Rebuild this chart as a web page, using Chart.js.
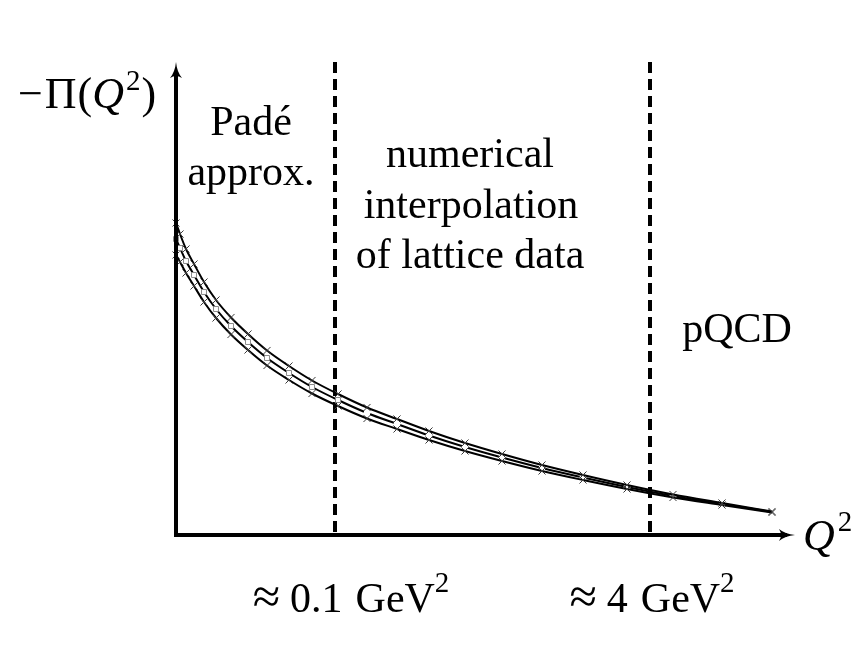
<!DOCTYPE html>
<html>
<head>
<meta charset="utf-8">
<script src="https://cdn.jsdelivr.net/npm/chart.js@4.4.0/dist/chart.umd.min.js"></script>
<style>
html, body { margin: 0; padding: 0; background: #fff; }
#wrap { width: 865px; height: 646px; }
</style>
</head>
<body>
<div id="wrap"><canvas id="myChart" width="865" height="646"></canvas></div>
<script>
// Q^2 positions (schematic units along the axis)
const qValues = [0, 4, 10, 18, 28, 40, 55, 72, 91, 113, 136, 162, 191, 221, 253, 289, 326, 366, 407, 451, 497, 546, 596];
// central curve and upper / lower error band
const centralValues = [296, 287, 274, 260, 243, 226, 209, 193, 177, 162, 148, 135, 122, 111, 99.5, 88, 77.5, 67, 57.5, 48, 39, 31, 23];
const upperValues = [312, 301, 286, 271, 253, 235, 217.5, 201, 184.5, 169, 154.5, 141, 127.5, 116, 104, 92, 81, 70, 60, 50, 40.5, 32, 23.5];
const lowerValues = [280, 273, 262, 249, 233, 217, 200.5, 185, 169.5, 155, 141.5, 129, 116.5, 106, 95, 84, 74, 64, 55, 46, 37.5, 30, 22.5];
// region boundaries on the Q^2 axis
const boundaryPositions = [159, 474];
const boundaryLabels = ['0.1', '4'];
const padeCount = 12; // points computed from the Padé approximants

const serif = '"Liberation Serif", "DejaVu Serif", serif';

function toPoints(ys) {
    return qValues.map((q, i) => ({ x: q, y: ys[i] }));
}

// draws a sequence of [text, font, dy, gapAfter] pieces, starting at x (or centred)
function drawRuns(ctx, runs, x, y, align) {
    let total = 0;
    runs.forEach(r => { ctx.font = r[1]; total += ctx.measureText(r[0]).width + (r[3] || 0); });
    let cx = align === 'center' ? x - total / 2 : x;
    ctx.textAlign = 'left';
    ctx.textBaseline = 'alphabetic';
    runs.forEach(r => {
        ctx.font = r[1];
        ctx.fillText(r[0], cx, y + (r[2] || 0));
        cx += ctx.measureText(r[0]).width + (r[3] || 0);
    });
}

const overlay = {
    id: 'overlay',
    beforeDatasetsDraw(chart) {
        const ctx = chart.ctx;
        const area = chart.chartArea;
        const xs = chart.scales.x;
        ctx.save();
        ctx.strokeStyle = '#000';
        ctx.lineWidth = 4;
        ctx.setLineDash([11, 6]);
        boundaryPositions.forEach(b => {
            const px = Math.round(xs.getPixelForValue(b));
            ctx.beginPath();
            ctx.moveTo(px, area.top);
            ctx.lineTo(px, area.bottom);
            ctx.stroke();
        });
        ctx.restore();
    },
    afterDatasetsDraw(chart) {
        const ctx = chart.ctx;
        const area = chart.chartArea;
        const xs = chart.scales.x;
        const L = area.left, B = area.bottom, T = area.top, R = area.right;
        ctx.save();
        ctx.strokeStyle = '#000';
        ctx.fillStyle = '#000';
        ctx.lineWidth = 4;
        // axes
        ctx.beginPath();
        ctx.moveTo(L, B + 2);
        ctx.lineTo(L, T + 10);
        ctx.moveTo(L - 2, B);
        ctx.lineTo(R - 8, B);
        ctx.stroke();
        // arrow heads
        ctx.beginPath();
        ctx.moveTo(L, T);
        ctx.quadraticCurveTo(L + 1, T + 10, L + 6, T + 16);
        ctx.quadraticCurveTo(L, T + 12, L - 6, T + 16);
        ctx.quadraticCurveTo(L - 1, T + 10, L, T);
        ctx.fill();
        ctx.beginPath();
        ctx.moveTo(R, B);
        ctx.quadraticCurveTo(R - 10, B - 1, R - 16, B - 6);
        ctx.quadraticCurveTo(R - 12, B, R - 16, B + 6);
        ctx.quadraticCurveTo(R - 10, B + 1, R, B);
        ctx.fill();

        // labels
        const big = '42px ' + serif;
        const sup = '29px ' + serif;
        drawRuns(ctx, [['\u2212', '44px ' + serif, 0, 2], ['\u03A0', '44px ' + serif, 0, 1], ['(', '44px ' + serif],
                       ['Q', 'italic 44px ' + serif, 0, 2], ['2', sup, -18, 1], [')', '44px ' + serif]], 18, 108, 'left');
        drawRuns(ctx, [['Q', 'italic 44px ' + serif, 0, 3], ['2', sup, -19]], 803, 550, 'left');

        drawRuns(ctx, [['Padé', big]], 251, 135, 'center');
        drawRuns(ctx, [['approx.', big]], 251, 185, 'center');
        drawRuns(ctx, [['numerical', big]], 470, 167, 'center');
        drawRuns(ctx, [['interpolation', big]], 471, 218, 'center');
        drawRuns(ctx, [['of lattice data', big]], 470, 268, 'center');
        drawRuns(ctx, [['pQCD', big]], 737, 342, 'center');

        const labelShift = [16, 2];
        boundaryLabels.forEach((lab, i) => {
            const px = xs.getPixelForValue(boundaryPositions[i]);
            drawRuns(ctx, [['\u2248', '50px ' + serif, 1, 10], [lab, big, 0, 13], ['GeV', big, 0, 0], ['2', sup, -20]],
                     px + labelShift[i], 612, 'center');
        });
        ctx.restore();
    }
};

const crossStyle = {
    borderColor: '#000',
    borderWidth: 2,
    pointStyle: 'crossRot',
    pointRadius: 5,
    pointBorderColor: '#3a3a3a',
    pointBorderWidth: 1,
    pointBackgroundColor: '#3a3a3a',
    cubicInterpolationMode: 'monotone',
    fill: false
};

new Chart(document.getElementById('myChart').getContext('2d'), {
    type: 'line',
    data: {
        datasets: [
            Object.assign({ label: 'upper', data: toPoints(upperValues) }, crossStyle),
            Object.assign({ label: 'lower', data: toPoints(lowerValues) }, crossStyle),
            {
                label: 'central',
                data: toPoints(centralValues),
                borderColor: '#000',
                borderWidth: 2,
                cubicInterpolationMode: 'monotone',
                pointStyle: ctx => ctx.dataIndex < padeCount ? 'rect' : 'circle',
                pointRadius: ctx => ctx.dataIndex < padeCount ? 3.5 : 3,
                pointBorderColor: ctx => ctx.dataIndex < padeCount ? '#8a8a8a' : '#fff',
                pointBorderWidth: 1,
                pointBackgroundColor: '#fff'
            }
        ]
    },
    options: {
        responsive: false,
        animation: false,
        clip: false,
        layout: { padding: { left: 176, right: 70, top: 62, bottom: 111 } },
        plugins: {
            legend: { display: false },
            tooltip: { enabled: false }
        },
        scales: {
            x: { type: 'linear', min: 0, max: 619, display: false },
            y: { min: 0, max: 473, display: false }
        }
    },
    plugins: [overlay]
});
</script>
</body>
</html>
